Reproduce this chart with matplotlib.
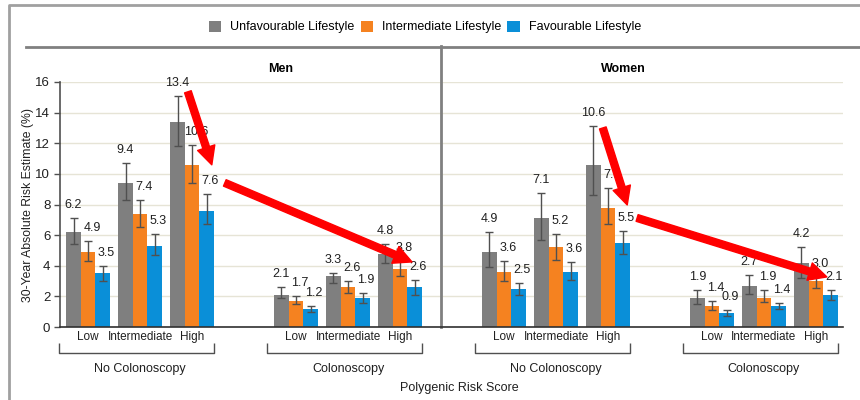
import matplotlib
matplotlib.use('Agg')
import matplotlib.pyplot as plt
import numpy as np
from matplotlib.lines import Line2D
from matplotlib.patches import Patch

plt.rcParams['font.family'] = ['Liberation Sans', 'DejaVu Sans']

# ---------------- data ----------------
series = ['Unfavourable Lifestyle', 'Intermediate Lifestyle', 'Favourable Lifestyle']
colors = ['#7f7f7f', '#f58220', '#0a8fd8']
prs_levels = ['Low', 'Intermediate', 'High']
screening = ['No Colonoscopy', 'Colonoscopy']
sexes = ['Men', 'Women']

# order: Men NoColo L,I,H | Men Colo L,I,H | Women NoColo L,I,H | Women Colo L,I,H
unfav = [6.2, 9.4, 13.4, 2.1, 3.3, 4.8, 4.9, 7.1, 10.6, 1.9, 2.7, 4.2]
inter = [4.9, 7.4, 10.6, 1.7, 2.6, 3.8, 3.6, 5.2, 7.8, 1.4, 1.9, 3.0]
fav = [3.5, 5.3, 7.6, 1.2, 1.9, 2.6, 2.5, 3.6, 5.5, 0.9, 1.4, 2.1]

unfav_lo = [5.4, 8.3, 11.8, 1.9, 2.85, 4.15, 3.9, 5.7, 8.6, 1.5, 2.15, 3.2]
unfav_hi = [7.1, 10.7, 15.1, 2.6, 3.55, 5.45, 6.2, 8.75, 13.1, 2.4, 3.4, 5.2]
inter_lo = [4.3, 6.5, 9.4, 1.5, 2.2, 3.3, 3.0, 4.4, 6.7, 1.1, 1.65, 2.55]
inter_hi = [5.6, 8.3, 11.9, 2.0, 3.0, 4.3, 4.3, 6.1, 9.1, 1.7, 2.4, 3.3]
fav_lo = [3.0, 4.7, 6.7, 1.0, 1.55, 2.1, 2.1, 3.1, 4.8, 0.75, 1.2, 1.75]
fav_hi = [4.0, 6.1, 8.7, 1.4, 2.2, 3.1, 2.9, 4.25, 6.3, 1.1, 1.6, 2.4]

# highlighted arrows (data coordinates: start -> tip)
arrows = [((1.92, 15.36), (2.38, 10.59)),
          ((2.63, 9.41), (6.23, 4.25)),
          ((9.90, 13.0), (10.37, 7.97)),
          ((10.56, 7.12), (14.21, 3.27))]

yticks = [0, 2, 4, 6, 8, 10, 12, 14, 16]

# ---------------- layout ----------------
fig = plt.figure(figsize=(8.6, 4.0), dpi=100)
fig.patch.set_facecolor('white')
ax = fig.add_axes([60 / 860, 73 / 400, 783 / 860, 245 / 400])

n_blocks = 4
pos = np.array([4 * b + i for b in range(n_blocks) for i in range(3)], dtype=float)
bw = 0.28
offsets = [-bw, 0.0, bw]
label_dx = [0, 3, 2.5]

vals_all = [unfav, inter, fav]
lo_all = [unfav_lo, inter_lo, fav_lo]
hi_all = [unfav_hi, inter_hi, fav_hi]

for k in range(3):
    v = np.array(vals_all[k])
    lo = np.array(lo_all[k])
    hi = np.array(hi_all[k])
    ax.bar(pos + offsets[k], v, width=bw, color=colors[k], zorder=2,
           yerr=[v - lo, hi - v],
           error_kw=dict(ecolor='#505050', elinewidth=1.0, capsize=2.6, capthick=1.0, zorder=3))
    for xi, vi, hii in zip(pos + offsets[k], v, hi):
        ax.annotate(f'{vi:.1f}', (xi, hii), xytext=(label_dx[k], 5), textcoords='offset points',
                    ha='center', va='bottom', fontsize=9, color='#202020', zorder=4)

ax.set_xlim(-0.54, 14.52)
ax.set_ylim(0, 16)
ax.set_yticks(yticks)
ax.set_yticklabels([str(t) for t in yticks], fontsize=9.5, color='#202020')
ax.tick_params(axis='y', direction='out', length=4, width=1, color='#505050', pad=3)
ax.set_xticks(pos)
ax.set_xticklabels(prs_levels * n_blocks, fontsize=8.5, color='#202020')
ax.tick_params(axis='x', length=0, pad=3)

ax.yaxis.grid(True, color='#e6e4d6', lw=1)
ax.set_axisbelow(True)
for s in ['top', 'right']:
    ax.spines[s].set_visible(False)
ax.spines['left'].set_color('#505050')
ax.spines['left'].set_linewidth(1.2)
ax.spines['bottom'].set_color('#303030')
ax.spines['bottom'].set_linewidth(1.2)

ax.set_ylabel('30-Year Absolute Risk Estimate (%)', fontsize=8.8, color='#202020', labelpad=1)

# brackets and group labels
for b in range(n_blocks):
    x0 = 4 * b - 0.55
    x1 = 4 * b + 2 + 0.43
    ax.plot([x0, x0, x1, x1], [-1.05, -1.7, -1.7, -1.05], color='#505050', lw=1,
            clip_on=False, solid_capstyle='butt')
    ax.text(4 * b + 1, -2.75, screening[b % 2], ha='center', va='center', fontsize=9,
            color='#202020', clip_on=False)

# divider between sexes
ax.plot([6.79, 6.79], [0, 18.37], color='#808080', lw=2, clip_on=False, zorder=1)

# panel titles
ax.text(3.7, 16.86, sexes[0], ha='center', va='center', fontsize=9, fontweight='bold', clip_on=False)
ax.text(10.3, 16.86, sexes[1], ha='center', va='center', fontsize=9, fontweight='bold', clip_on=False)

# red arrows
for (xs, ys), (xt, yt) in arrows:
    ax.annotate('', xy=(xt, yt), xytext=(xs, ys), annotation_clip=False, zorder=6,
                arrowprops=dict(arrowstyle='simple,head_width=1.3,head_length=1.3,tail_width=0.5',
                                color='#ff0000', mutation_scale=10, shrinkA=0, shrinkB=0))

fig.text(459 / 860, 1 - 388 / 400, 'Polygenic Risk Score', ha='center', va='center',
         fontsize=9, color='#202020')

# horizontal rule under legend and outer frame
fig.add_artist(Line2D([26 / 860, 1.0], [1 - 47 / 400, 1 - 47 / 400], color='#808080', lw=2,
                      transform=fig.transFigure))
fig.add_artist(Line2D([9 / 860, 9 / 860, 1.0], [0.0, 1 - 5 / 400, 1 - 5 / 400], color='#a0a0a0',
                      lw=2, transform=fig.transFigure))

handles = [Patch(facecolor=c, edgecolor='none') for c in colors]
fig.legend(handles, series, loc='center', bbox_to_anchor=(0.494, 1 - 27 / 400), ncol=3,
           frameon=False, handlelength=1.0, handleheight=1.0, handletextpad=0.7,
           columnspacing=0.5, fontsize=9, borderaxespad=0, borderpad=0)

fig.savefig('out.png', dpi=100, facecolor='white')
